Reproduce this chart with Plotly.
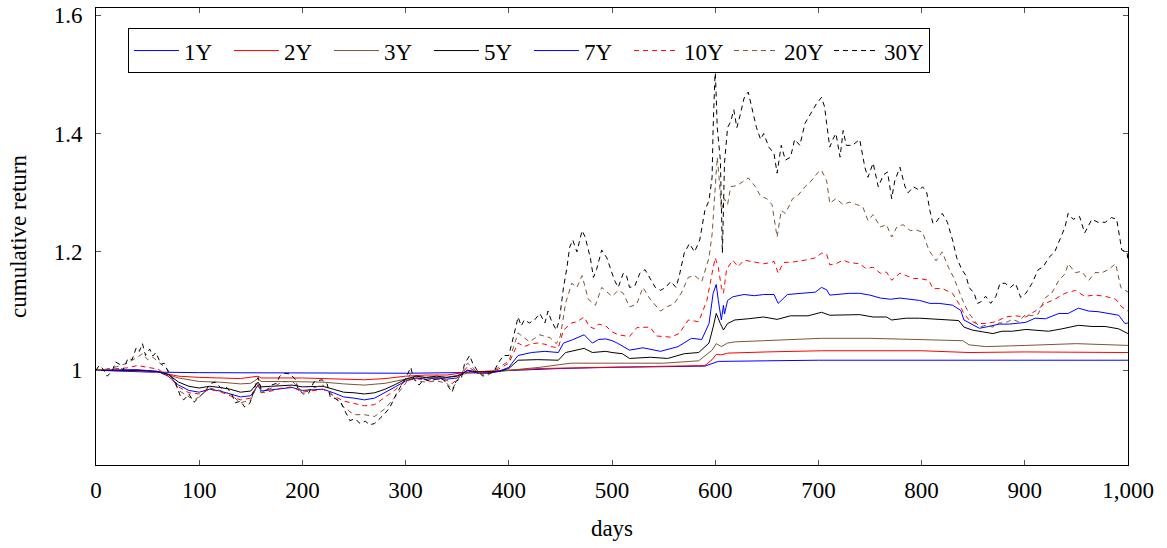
import plotly.graph_objects as go

# ---- data (day, cumulative return) ----
d1 = [0, 50, 100, 200, 300, 350, 400, 450, 500, 550, 590, 598, 603, 650, 700, 1000]
v1 = [1.000, 0.997, 0.996, 0.995, 0.995, 0.996, 1.000, 1.003, 1.005, 1.006, 1.007, 1.012, 1.015, 1.016, 1.017, 1.017]

d2 = [0, 40, 60, 80, 100, 140, 157, 160, 200, 240, 260, 280, 300, 320, 340, 360, 380, 400, 430, 500, 550, 590,
      597, 601, 606, 612, 650, 703, 800, 846, 900, 1000]
v2 = [1.000, 0.999, 0.997, 0.990, 0.988, 0.986, 0.990, 0.987, 0.987, 0.985, 0.984, 0.986, 0.990, 0.992, 0.992,
      0.997, 0.998, 1.000, 1.003, 1.005, 1.006, 1.008, 1.018, 1.027, 1.026, 1.029, 1.031, 1.033, 1.033, 1.030,
      1.031, 1.030]

d3 = [0, 40, 60, 80, 100, 120, 140, 150, 157, 160, 180, 200, 220, 240, 260, 280, 300, 320, 340, 360, 380, 400,
      430, 460, 500, 550, 584, 597, 601, 606, 612, 619, 647, 680, 703, 750, 800, 840, 846, 862, 901, 950, 1000]
v3 = [1.000, 1.000, 0.998, 0.987, 0.981, 0.980, 0.977, 0.978, 0.986, 0.981, 0.981, 0.980, 0.980, 0.977, 0.975,
      0.978, 0.985, 0.988, 0.988, 0.995, 0.996, 1.000, 1.005, 1.012, 1.012, 1.012, 1.016, 1.034, 1.045, 1.040,
      1.046, 1.048, 1.050, 1.052, 1.054, 1.054, 1.052, 1.050, 1.043, 1.040, 1.042, 1.045, 1.042]

d5 = [0, 20, 40, 60, 70, 80, 90, 100, 110, 120, 130, 140, 150, 157, 160, 170, 180, 190, 200, 210, 220, 230, 240,
      250, 260, 270, 280, 290, 300, 310, 320, 330, 340, 350, 360, 370, 380, 390, 400, 409, 428, 448, 455, 473, 481,
      494, 500, 510, 517, 537, 554, 570, 584, 594, 598, 601, 605, 608, 612, 619, 632, 647, 660, 673, 690, 703, 711,
      727, 740, 753, 766, 771, 785, 798, 811, 823, 836, 841, 849, 859, 869, 878, 888, 901, 910, 923, 936, 952, 965,
      978, 991, 1000]
v5 = [1.000, 1.000, 1.000, 0.998, 0.993, 0.980, 0.973, 0.970, 0.973, 0.971, 0.968, 0.963, 0.965, 0.980, 0.972,
      0.973, 0.974, 0.975, 0.972, 0.973, 0.973, 0.968, 0.963, 0.962, 0.960, 0.962, 0.968, 0.976, 0.985, 0.990,
      0.988, 0.990, 0.988, 0.990, 1.000, 0.997, 0.997, 0.998, 1.003, 1.017, 1.018, 1.017, 1.030, 1.037, 1.030,
      1.032, 1.030, 1.028, 1.020, 1.022, 1.020, 1.028, 1.030, 1.046, 1.073, 1.096, 1.079, 1.068, 1.079, 1.085,
      1.087, 1.090, 1.086, 1.092, 1.092, 1.098, 1.093, 1.094, 1.094, 1.090, 1.090, 1.085, 1.088, 1.088, 1.087,
      1.085, 1.084, 1.073, 1.068, 1.065, 1.062, 1.066, 1.066, 1.069, 1.068, 1.066, 1.070, 1.076, 1.074, 1.074,
      1.070, 1.062]

d7 = [0, 20, 40, 60, 70, 80, 90, 100, 110, 120, 130, 140, 150, 157, 160, 170, 180, 190, 200, 210, 220, 230, 240,
      250, 260, 270, 280, 290, 300, 310, 320, 330, 340, 350, 360, 370, 380, 390, 400, 409, 422, 435, 448, 453, 461,
      473, 481, 487, 494, 500, 505, 517, 530, 547, 564, 577, 587, 594, 598, 601, 603, 606, 608, 609, 612, 617, 622,
      628, 638, 647, 657, 661, 670, 683, 697, 703, 708, 711, 721, 730, 740, 750, 760, 770, 779, 789, 798, 808, 817,
      830, 838, 841, 846, 856, 865, 875, 885, 894, 901, 910, 920, 933, 942, 952, 962, 971, 981, 991, 997, 1000]
v7 = [1.000, 1.000, 1.001, 0.998, 0.990, 0.975, 0.966, 0.963, 0.968, 0.965, 0.960, 0.955, 0.957, 0.975, 0.965,
      0.967, 0.969, 0.971, 0.966, 0.967, 0.968, 0.962, 0.955, 0.953, 0.950, 0.953, 0.962, 0.972, 0.982, 0.987,
      0.985, 0.987, 0.985, 0.987, 1.000, 0.995, 0.995, 0.998, 1.005, 1.025, 1.030, 1.032, 1.030, 1.046, 1.051,
      1.060, 1.046, 1.052, 1.053, 1.050, 1.046, 1.034, 1.038, 1.032, 1.040, 1.054, 1.052, 1.079, 1.130, 1.145,
      1.118, 1.085, 1.110, 1.095, 1.118, 1.124, 1.126, 1.128, 1.126, 1.128, 1.128, 1.113, 1.128, 1.130, 1.132,
      1.140, 1.136, 1.127, 1.129, 1.130, 1.130, 1.127, 1.122, 1.120, 1.122, 1.120, 1.118, 1.113, 1.113, 1.110,
      1.101, 1.085, 1.080, 1.071, 1.074, 1.078, 1.078, 1.080, 1.081, 1.088, 1.087, 1.096, 1.096, 1.105, 1.100,
      1.099, 1.096, 1.093, 1.079, 1.080]

d10 = [0, 10, 20, 30, 40, 50, 60, 70, 80, 90, 100, 110, 120, 130, 140, 150, 157, 160, 170, 180, 190, 200, 210,
       220, 230, 240, 250, 260, 270, 280, 290, 300, 310, 320, 330, 340, 345, 350, 360, 370, 380, 390, 400, 409, 415,
       422, 428, 435, 441, 448, 453, 461, 466, 473, 478, 483, 487, 494, 500, 506, 517, 524, 537, 543, 557, 565, 574,
       584, 592, 597, 600, 603, 606, 608, 611, 617, 622, 628, 635, 641, 647, 654, 657, 661, 666, 676, 687, 697, 703,
       708, 711, 717, 724, 730, 740, 746, 753, 760, 766, 771, 779, 785, 792, 798, 807, 811, 820, 830, 836, 841, 846,
       853, 862, 872, 881, 891, 901, 910, 920, 929, 939, 949, 958, 968, 978, 988, 994, 1000]
v10 = [1.000, 1.001, 1.002, 1.004, 1.008, 1.005, 1.002, 0.990, 0.972, 0.962, 0.960, 0.968, 0.964, 0.957, 0.950,
       0.953, 0.975, 0.962, 0.965, 0.970, 0.972, 0.963, 0.966, 0.968, 0.957, 0.948, 0.944, 0.940, 0.942, 0.955,
       0.967, 0.982, 0.986, 0.983, 0.985, 0.983, 0.977, 0.986, 1.006, 0.996, 0.995, 1.002, 1.012, 1.046, 1.040,
       1.045, 1.046, 1.044, 1.040, 1.038, 1.068, 1.080, 1.082, 1.090, 1.074, 1.070, 1.078, 1.075, 1.065, 1.060,
       1.057, 1.072, 1.073, 1.058, 1.056, 1.062, 1.085, 1.082, 1.118, 1.164, 1.190, 1.174, 1.140, 1.130, 1.170,
       1.186, 1.175, 1.186, 1.184, 1.182, 1.180, 1.182, 1.184, 1.164, 1.182, 1.183, 1.186, 1.190, 1.198, 1.196,
       1.178, 1.180, 1.186, 1.182, 1.180, 1.172, 1.174, 1.164, 1.166, 1.152, 1.164, 1.160, 1.155, 1.155, 1.152,
       1.138, 1.138, 1.130, 1.113, 1.096, 1.085, 1.079, 1.079, 1.082, 1.090, 1.092, 1.090, 1.100, 1.113, 1.120,
       1.130, 1.135, 1.125, 1.127, 1.125, 1.120, 1.107, 1.100]

d20 = [0, 10, 20, 30, 40, 45, 50, 55, 60, 70, 80, 90, 95, 100, 110, 120, 130, 140, 150, 157, 160, 170, 180, 190,
       200, 210, 220, 230, 240, 250, 260, 270, 280, 290, 300, 305, 310, 320, 330, 340, 345, 350, 360, 365, 370, 380,
       390, 400, 409, 415, 420, 430, 440, 446, 450, 455, 461, 466, 471, 477, 484, 490, 500, 506, 511, 517, 524, 530,
       537, 547, 554, 560, 567, 574, 580, 587, 594, 597, 600, 602, 604, 606, 609, 612, 615, 621, 628, 632, 639, 644,
       650, 655, 660, 664, 668, 675, 680, 687, 693, 700, 703, 708, 711, 717, 724, 730, 737, 743, 748, 753, 760, 766,
       771, 776, 782, 789, 795, 801, 807, 814, 820, 826, 831, 836, 841, 846, 851, 856, 862, 869, 875, 881, 888, 894,
       901, 907, 913, 920, 926, 933, 939, 942, 949, 955, 962, 968, 975, 981, 988, 993, 1000]
v20 = [1.000, 1.002, 1.006, 1.012, 1.022, 1.028, 1.018, 1.022, 1.015, 1.000, 0.966, 0.956, 0.950, 0.955, 0.970,
       0.966, 0.960, 0.945, 0.950, 0.978, 0.962, 0.970, 0.980, 0.982, 0.963, 0.970, 0.975, 0.957, 0.938, 0.925,
       0.925, 0.922, 0.935, 0.955, 0.978, 0.995, 0.982, 0.980, 0.982, 0.978, 0.968, 0.982, 1.012, 1.005, 0.995,
       0.992, 1.005, 1.015, 1.063, 1.055, 1.048, 1.060, 1.055, 1.045, 1.058, 1.113, 1.147, 1.140, 1.160, 1.120,
       1.110, 1.140, 1.125, 1.135, 1.130, 1.107, 1.112, 1.140, 1.120, 1.100, 1.108, 1.112, 1.130, 1.157, 1.160,
       1.150, 1.190, 1.230, 1.315, 1.360, 1.320, 1.270, 1.290, 1.280, 1.310, 1.312, 1.320, 1.325, 1.310, 1.294,
       1.290, 1.280, 1.225, 1.270, 1.265, 1.290, 1.295, 1.310, 1.320, 1.335, 1.338, 1.320, 1.282, 1.290, 1.280,
       1.284, 1.280, 1.276, 1.253, 1.263, 1.242, 1.246, 1.225, 1.242, 1.246, 1.236, 1.237, 1.233, 1.203, 1.185,
       1.200, 1.174, 1.157, 1.135, 1.113, 1.096, 1.084, 1.073, 1.076, 1.073, 1.080, 1.080, 1.086, 1.082, 1.095,
       1.092, 1.095, 1.123, 1.130, 1.152, 1.163, 1.180, 1.165, 1.167, 1.152, 1.165, 1.165, 1.170, 1.180, 1.140,
       1.132]

d30 = [0, 3, 6, 11, 16, 19, 23, 26, 31, 35, 39, 42, 45, 48, 52, 55, 58, 63, 66, 69, 72, 76, 79, 82, 85, 90, 95,
       100, 106, 111, 116, 121, 126, 131, 135, 140, 144, 149, 154, 157, 160, 165, 170, 175, 178, 183, 188, 193, 196,
       201, 206, 211, 214, 219, 224, 227, 232, 237, 241, 246, 251, 256, 261, 265, 270, 275, 280, 285, 288, 291, 296,
       300, 305, 308, 313, 318, 323, 328, 332, 337, 342, 345, 349, 354, 357, 362, 365, 370, 375, 380, 385, 390, 395,
       400, 405, 409, 412, 415, 420, 425, 430, 435, 438, 441, 446, 449, 453, 456, 459, 462, 466, 471, 474, 479, 482,
       485, 490, 495, 500, 503, 506, 511, 514, 517, 522, 527, 532, 537, 542, 547, 552, 557, 562, 565, 570, 575, 580,
       585, 590, 594, 597, 598, 600, 602, 605, 607, 609, 612, 615, 618, 621, 624, 628, 632, 637, 640, 644, 647, 652,
       657, 660, 664, 668, 673, 677, 682, 687, 693, 698, 703, 706, 708, 711, 714, 717, 721, 724, 727, 733, 740, 745,
       748, 753, 758, 763, 767, 771, 774, 779, 784, 787, 792, 798, 801, 805, 808, 811, 814, 820, 825, 830, 834, 839,
       843, 846, 851, 854, 857, 862, 867, 872, 876, 881, 886, 891, 896, 901, 907, 913, 918, 923, 929, 934, 939, 942,
       947, 953, 958, 965, 971, 978, 984, 989, 994, 999, 1000]
v30 = [1.000, 1.008, 1.004, 0.990, 1.000, 1.014, 1.010, 1.000, 1.020, 1.018, 1.038, 1.032, 1.045, 1.025, 1.036,
       1.024, 1.030, 1.010, 1.012, 1.000, 0.990, 0.985, 0.970, 0.955, 0.950, 0.960, 0.946, 0.955, 0.965, 0.978,
       0.980, 0.970, 0.972, 0.962, 0.945, 0.948, 0.938, 0.944, 0.970, 0.988, 0.968, 0.966, 0.975, 0.978, 0.990,
       0.995, 0.994, 0.985, 0.968, 0.960, 0.961, 0.980, 0.982, 0.984, 0.977, 0.955, 0.952, 0.947, 0.932, 0.915,
       0.918, 0.910, 0.914, 0.908, 0.910, 0.918, 0.927, 0.938, 0.950, 0.960, 0.975, 0.986, 1.005, 0.985, 0.975,
       0.985, 0.982, 0.984, 0.986, 0.984, 0.970, 0.963, 0.982, 0.986, 1.010, 1.025, 1.012, 0.998, 0.990, 0.995,
       0.996, 1.013, 1.025, 1.025, 1.060, 1.090, 1.075, 1.085, 1.080, 1.085, 1.096, 1.080, 1.100, 1.085, 1.068,
       1.085, 1.140, 1.170, 1.208, 1.220, 1.200, 1.236, 1.225, 1.190, 1.157, 1.170, 1.203, 1.190, 1.164, 1.150,
       1.140, 1.164, 1.160, 1.140, 1.142, 1.164, 1.170, 1.155, 1.140, 1.135, 1.140, 1.150, 1.140, 1.158, 1.198,
       1.214, 1.200, 1.220, 1.270, 1.287, 1.326, 1.410, 1.510, 1.410, 1.355, 1.198, 1.350, 1.410, 1.420, 1.440,
       1.410, 1.430, 1.460, 1.470, 1.434, 1.410, 1.390, 1.400, 1.377, 1.366, 1.333, 1.380, 1.355, 1.360, 1.390,
       1.380, 1.417, 1.434, 1.450, 1.461, 1.445, 1.417, 1.377, 1.390, 1.400, 1.360, 1.405, 1.380, 1.380, 1.390,
       1.343, 1.326, 1.350, 1.310, 1.330, 1.335, 1.290, 1.320, 1.343, 1.310, 1.300, 1.310, 1.304, 1.310, 1.300,
       1.270, 1.248, 1.250, 1.265, 1.250, 1.220, 1.190, 1.170, 1.160, 1.140, 1.130, 1.113, 1.115, 1.125, 1.113,
       1.125, 1.147, 1.147, 1.140, 1.147, 1.123, 1.130, 1.147, 1.170, 1.175, 1.190, 1.200, 1.220, 1.242, 1.265,
       1.255, 1.260, 1.232, 1.255, 1.250, 1.250, 1.258, 1.255, 1.203, 1.200, 1.185]

names = ["1Y", "2Y", "3Y", "5Y", "7Y", "10Y", "20Y", "30Y"]
xs = [d1, d2, d3, d5, d7, d10, d20, d30]
ys = [v1, v2, v3, v5, v7, v10, v20, v30]
colors = ["#0000ff", "#ff0000", "#7d5533", "#000000", "#0000ff", "#ff0000", "#7d5533", "#000000"]
dashes = ["solid", "solid", "solid", "solid", "solid", "5px,4px", "5px,4px", "5px,4px"]

x_ticks = [0, 100, 200, 300, 400, 500, 600, 700, 800, 900, 1000]
y_ticks = [1.0, 1.2, 1.4, 1.6]
y_labels = ["1", "1.2", "1.4", "1.6"]

FONT = "Liberation Serif, Times New Roman, serif"

fig = go.Figure()
for n, x, y, c, d in zip(names, xs, ys, colors, dashes):
    fig.add_trace(go.Scatter(x=x, y=y, mode="lines", name=n,
                             line=dict(color=c, width=1, dash=d)))

fig.update_layout(
    width=1167, height=548,
    margin=dict(l=96, r=39, t=8, b=83, autoexpand=False),
    plot_bgcolor="white", paper_bgcolor="white",
    font=dict(family=FONT, size=23, color="black"),
    showlegend=True,
    legend=dict(orientation="h", x=0.031, y=0.956, xanchor="left", yanchor="top",
                bordercolor="black", borderwidth=1, bgcolor="white",
                font=dict(family=FONT, size=23), entrywidth=40, tracegroupgap=0,
                itemwidth=45),
)
fig.update_xaxes(range=[0, 1000], tickvals=x_ticks, tickformat=",", showgrid=False, zeroline=False,
                 automargin=False,
                 showline=True, linecolor="black", linewidth=1, mirror="ticks",
                 ticks="inside", ticklen=5, tickcolor="#555", tickwidth=1, ticklabelstandoff=4,
                 title=dict(text="days", font=dict(family=FONT, size=23), standoff=18),
                 tickfont=dict(family=FONT, size=23))
fig.update_yaxes(range=[0.84, 1.612], tickvals=y_ticks, ticktext=y_labels, showgrid=False, zeroline=False,
                 automargin=False,
                 showline=True, linecolor="black", linewidth=1, mirror="ticks",
                 ticks="inside", ticklen=5, tickcolor="#555", tickwidth=1, ticklabelstandoff=8,
                 title=dict(text="cumulative return", font=dict(family=FONT, size=23), standoff=20),
                 tickfont=dict(family=FONT, size=23))

fig.write_html("out.html", config={"displayModeBar": False},
               post_script="document.body.style.margin='0px';")
